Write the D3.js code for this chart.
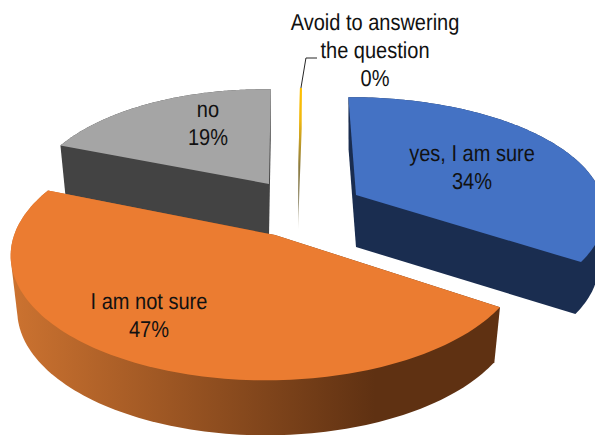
<!DOCTYPE html>
<html><head><meta charset="utf-8">
<script src="https://cdn.jsdelivr.net/npm/d3@7"></script>
<style>html,body{margin:0;padding:0;background:#fff;overflow:hidden}svg{display:block}text{text-rendering:geometricPrecision}</style>
</head><body><div id="c"></div>
<script>
// data
const categories = ["yes, I am sure", "I am not sure", "no", "Avoid to answering the question"];
const values = [34, 47, 19, 0.3];
const percentLabels = ["34%", "47%", "19%", "0%"];
const topColors = ["#4472C4", "#EB7C31", "#A5A5A5", "#FFC000"];
const sideColors = ["#1A2D50", "#7A4017", "#434343", "#8A7A40"];

// layout of the exploded, perspective 3D pie
const W = 595, H = 435;
const view = {a: 253, b: 122, p: 0.16, r: 0.03, bottomScale: 0.975};
const wedges = [
  {cx: 356, cy: 195, sx: 1.00, sy: 0.93, depth: 52, startNudge: 0},
  {cx: 275, cy: 235, sx: 1.00, sy: 1.00, depth: 55, startNudge: 0},
  {cx: 269, cy: 184, sx: 0.91, sy: 0.90, depth: 52, startNudge: -1},
  {cx: 298, cy: 190, sx: 1.00, sy: 0.97, depth: 40, startNudge: 0}
];
const labelLayout = [
  {x: 472, y: 161, lines: ["yes, I am sure"]},
  {x: 149, y: 308.5, lines: ["I am not sure"]},
  {x: 208, y: 116.5, lines: ["no"]},
  {x: 375, y: 30, lines: ["Avoid to answering", "the question"]}
];
const FS = 23, LH = 28, TEXT_SQUEEZE = 0.87;

// the camera skews the true angles slightly
const warp = d3.scaleLinear().domain([0, 122.4, 291.6, 358.9, 360]).range([-2, 124, 293, 360.5, 361]);

const arcs = d3.pie().sort(null).value(d => d).startAngle(0).endAngle(2 * Math.PI)(values);

function project(w, angleDeg, radius, bottom) {
  const t = angleDeg * Math.PI / 180;
  const X = radius * Math.sin(t), Y = radius * Math.cos(t);
  const f = 1 / (1 + view.p * Y + view.r * X);
  const s = bottom ? view.bottomScale : 1;
  return [
    w.cx + view.a * X * f * w.sx * s,
    w.cy - view.b * Y * f * w.sy + (bottom ? w.depth : 0)
  ];
}
const line = d3.line();
const svg = d3.select("#c").append("svg").attr("width", W).attr("height", H).attr("viewBox", [0, 0, W, H]);

const defs = svg.append("defs");
const og = defs.append("linearGradient").attr("id", "orangeSide").attr("gradientUnits", "userSpaceOnUse")
  .attr("x1", 15).attr("x2", 375).attr("y1", 0).attr("y2", 0);
og.append("stop").attr("offset", 0).attr("stop-color", "#CB7230");
og.append("stop").attr("offset", 1).attr("stop-color", "#5F3112");
const ag = defs.append("linearGradient").attr("id", "avoidFill").attr("gradientUnits", "userSpaceOnUse")
  .attr("x1", 0).attr("x2", 0).attr("y1", 88).attr("y2", 232);
[[0, "#FFC000"], [0.22, "#F0B810"], [0.55, "#8A7A40"], [0.8, "#A09A80"], [1, "#E8E6DE"]].forEach(([o, c]) =>
  ag.append("stop").attr("offset", o).attr("stop-color", c));

const drawOrder = [3, 2, 0, 1];
drawOrder.forEach(i => {
  const w = wedges[i];
  const a0 = warp(arcs[i].startAngle * 180 / Math.PI) + w.startNudge;
  const a1 = warp(arcs[i].endAngle * 180 / Math.PI);
  const steps = d3.range(0, 121).map(k => a0 + (a1 - a0) * k / 120);
  const topRim = steps.map(a => project(w, a, 1, false));
  const botRim = steps.map(a => project(w, a, 1, true));
  const apexT = project(w, 0, 0, false), apexB = project(w, 0, 0, true);
  const side = i === 1 ? "url(#orangeSide)" : i === 3 ? "url(#avoidFill)" : sideColors[i];
  const top = i === 3 ? "url(#avoidFill)" : topColors[i];
  const g = svg.append("g").attr("class", "slice");
  // the extruded body of a convex wedge is the hull of both faces
  const hull = d3.polygonHull(topRim.concat(botRim, [apexT, apexB]));
  g.append("path").attr("d", line(hull) + "Z").attr("fill", side);
  // top face
  g.append("path").attr("d", line([apexT].concat(topRim)) + "Z").attr("fill", top);
});

// leader line for the 0% slice
const tip = project(wedges[3], warp(359.5), 1, false);
svg.append("path").attr("d", line([tip, [tip[0] + 5, 58], [317, 58]]))
  .attr("fill", "none").attr("stroke", "#262626").attr("stroke-width", 1);

// labels
const font = "'Liberation Sans', Arial, sans-serif";
labelLayout.forEach((l, i) => {
  const rows = l.lines.concat([percentLabels[i]]);
  rows.forEach((t, k) => {
    svg.append("text")
      .attr("transform", `translate(${l.x},${l.y + k * LH}) scale(${TEXT_SQUEEZE},1)`)
      .attr("text-anchor", "middle").attr("font-family", font).attr("font-size", FS)
      .attr("fill", "#111").text(t);
  });
});
</script></body></html>
